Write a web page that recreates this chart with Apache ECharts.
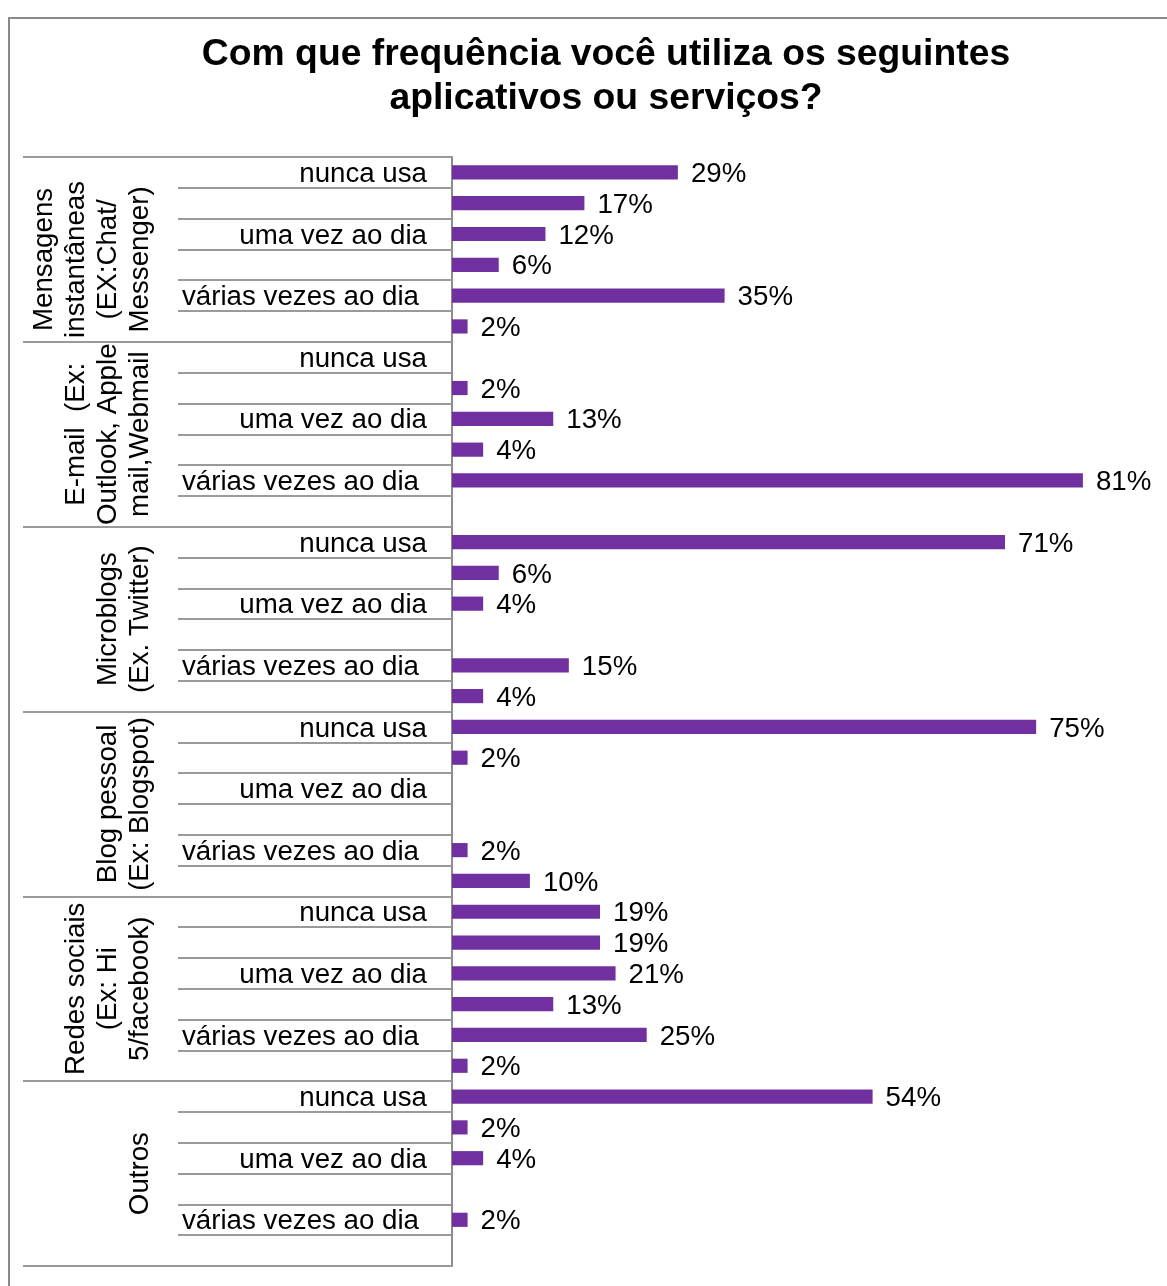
<!DOCTYPE html>
<html>
<head>
<meta charset="utf-8">
<script src="https://cdn.jsdelivr.net/npm/echarts@6/dist/echarts.min.js"></script>
<style>
html,body{margin:0;padding:0;background:#fff;}
#c{width:1167px;height:1286px;}
</style>
</head>
<body>
<div id="c"></div>
<script>
// ---- data ----
const titleText = 'Com que frequência você utiliza os seguintes\naplicativos ou serviços?';
const groups = [
  'Mensagens\ninstantâneas\n(EX:Chat/\nMessenger)',
  'E-mail  (Ex:\nOutlook, Apple\nmail,Webmail',
  'Microblogs\n(Ex. Twitter)',
  'Blog pessoal\n(Ex: Blogspot)',
  'Redes sociais\n(Ex: Hi\n5/facebook)',
  'Outros'
];
const frequencies = ['nunca usa', '', 'uma vez ao dia', '', 'várias vezes ao dia', ''];
const msgValues = [29, 17, 12, 6, 35, 2];
const emailValues = [null, 2, 13, 4, 81, null];
const microblogValues = [71, 6, 4, null, 15, 4];
const blogValues = [75, 2, null, null, 2, 10];
const socialValues = [19, 19, 21, 13, 25, 2];
const otherValues = [54, 2, 4, null, 2, null];

// ---- build ----
const FONT = '"Liberation Sans", Arial, Helvetica, sans-serif';
const rowCats = [];
groups.forEach(() => frequencies.forEach(f => rowCats.push(f)));
const values = [].concat(msgValues, emailValues, microblogValues, blogValues, socialValues, otherValues);

const baseRich = {fontSize: 27.7, fontFamily: FONT, color: '#000', lineHeight: 32};

const chart = echarts.init(document.getElementById('c'), null, {renderer: 'canvas'});
chart.setOption({
  backgroundColor: '#fff',
  animation: false,
  grid: {left: 452, top: 157, width: 701, height: 1109, outerBoundsMode: 'none', containLabel: false},
  xAxis: {type: 'value', min: 0, max: 90, show: false},
  yAxis: [
    {
      type: 'category', data: rowCats, inverse: true, position: 'left',
      axisLine: {show: true, lineStyle: {color: '#8c8c8c', width: 2}},
      axisTick: {show: true, interval: 0, length: 274, lineStyle: {color: '#9a9a9a', width: 2}},
      axisLabel: {
        interval: 0, margin: 25, fontSize: 27.7, color: '#000', fontFamily: FONT,
        formatter: v => v === '' ? '' : (v === 'várias vezes ao dia' ? '{w|' + v + '}' : '{n|' + v + '}'),
        rich: {
          n: {fontSize: 27.7, fontFamily: FONT, color: '#000', padding: [4, 0, 0, 0]},
          w: {fontSize: 27.7, fontFamily: FONT, color: '#000', padding: [4, 8, 0, 0]}
        }
      },
      splitLine: {show: false}
    },
    {
      type: 'category', data: groups, inverse: true, position: 'left', offset: 0,
      axisLine: {show: false},
      axisTick: {show: true, interval: 0, length: 429, lineStyle: {color: '#9a9a9a', width: 2}},
      axisLabel: {
        interval: 0, rotate: 90, margin: 296, fontSize: 27.7, lineHeight: 32, color: '#000', fontFamily: FONT,
        formatter: (v, i) => v.split('\n').map(l => '{' + (i === 0 ? 'g1' : 'g') + '|' + l + '}').join('\n'),
        rich: {
          g: Object.assign({}, baseRich),
          g1: Object.assign({}, baseRich, {padding: [0, 20, 0, 0]})
        }
      },
      splitLine: {show: false}
    }
  ],
  series: [{
    type: 'bar',
    yAxisIndex: 0,
    data: values,
    barCategoryGap: '54%',
    itemStyle: {color: '#7030A0'},
    label: {
      show: true, position: 'right', distance: 13, offset: [0, 2],
      formatter: p => p.value + '%',
      fontSize: 27.7, color: '#000', fontFamily: FONT
    }
  }],
  graphic: [
    {
      type: 'rect', silent: true, z: -10,
      shape: {x: 9, y: 18, width: 1300, height: 1400},
      style: {fill: 'none', stroke: '#8a8a8a', lineWidth: 2}
    },
    {
      type: 'text', silent: true, x: 606, y: 33,
      style: {
        text: titleText, fill: '#000',
        font: 'bold 37.3px ' + FONT,
        align: 'center', verticalAlign: 'top',
        textAlign: 'center', textVerticalAlign: 'top',
        lineHeight: 44
      }
    }
  ]
});
</script>
</body>
</html>
